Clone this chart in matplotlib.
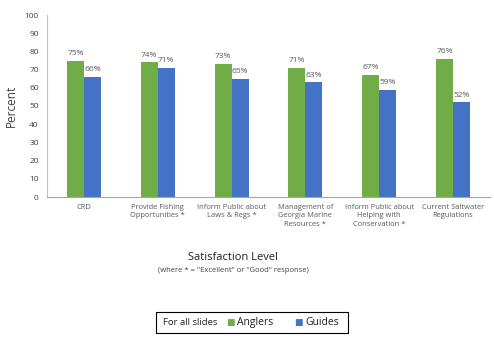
import numpy as np
import matplotlib.pyplot as plt

categories = ['CRD', 'Provide Fishing\nOpportunities *', 'Inform Public about\nLaws & Regs *',
              'Management of\nGeorgia Marine\nResources *', 'Inform Public about\nHelping with\nConservation *',
              'Current Saltwater\nRegulations']
anglers = [75, 74, 73, 71, 67, 76]
guides = [66, 71, 65, 63, 59, 52]
yticks = list(range(0, 101, 10))

green = '#70AD47'
blue = '#4472C4'
grey = '#595959'

plt.rcParams['font.family'] = ['Open Sans', 'DejaVu Sans']

fig = plt.figure(figsize=(4.94, 3.42), dpi=100)
ax = fig.add_axes([47 / 494, 1 - 197 / 342, 443 / 494, 182 / 342])

x = np.arange(len(categories))
w = 0.23
ax.bar(x - w / 2, anglers, w, color=green)
ax.bar(x + w / 2, guides, w, color=blue)

for xi, a, g in zip(x, anglers, guides):
    ax.text(xi - w / 2, a + 2, f'{a}%', ha='center', va='bottom', fontsize=6, color=grey)
    ax.text(xi + w / 2, g + 2, f'{g}%', ha='center', va='bottom', fontsize=6, color=grey)

ax.set_xlim(-0.5, len(categories) - 0.5)
ax.set_ylim(0, 100)
ax.set_yticks(yticks)
ax.set_xticks(x)
ax.set_xticklabels(categories, fontsize=5.4, color=grey, linespacing=1.3)
ax.tick_params(axis='y', labelsize=6, labelcolor='#404040', length=0, pad=6)
ax.tick_params(axis='x', length=0, pad=5)
for s in ['top', 'right']:
    ax.spines[s].set_visible(False)
ax.spines['left'].set_color('#BFBFBF')
ax.spines['bottom'].set_color('#A6A6A6')
ax.set_ylabel('Percent', fontsize=8.5, color='#404040', labelpad=5)

fig.text(0.472, 1 - 258 / 342, 'Satisfaction Level', ha='center', va='center', fontsize=8, color='#202020')
fig.text(0.472, 1 - 270 / 342, '(where * = "Excellent" or "Good" response)', ha='center', va='center',
         fontsize=5.5, color='#404040')

# legend box
fig.patches.append(plt.Rectangle((156 / 494, 1 - 333 / 342), 192 / 494, 21 / 342, transform=fig.transFigure,
                                 fill=False, edgecolor='black', linewidth=0.8))
ly = 1 - 322.5 / 342
fig.text(163 / 494, ly, 'For all slides', ha='left', va='center', fontsize=6.8, color='#202020')
fig.text(226 / 494, ly, '\u25A0', ha='left', va='center', fontsize=6.5, color=green)
fig.text(237 / 494, ly, 'Anglers', ha='left', va='center', fontsize=7.5, color='#202020')
fig.text(294 / 494, ly, '\u25A0', ha='left', va='center', fontsize=6.5, color=blue)
fig.text(305 / 494, ly, 'Guides', ha='left', va='center', fontsize=7.5, color='#202020')

fig.savefig('out.png', dpi=100)
